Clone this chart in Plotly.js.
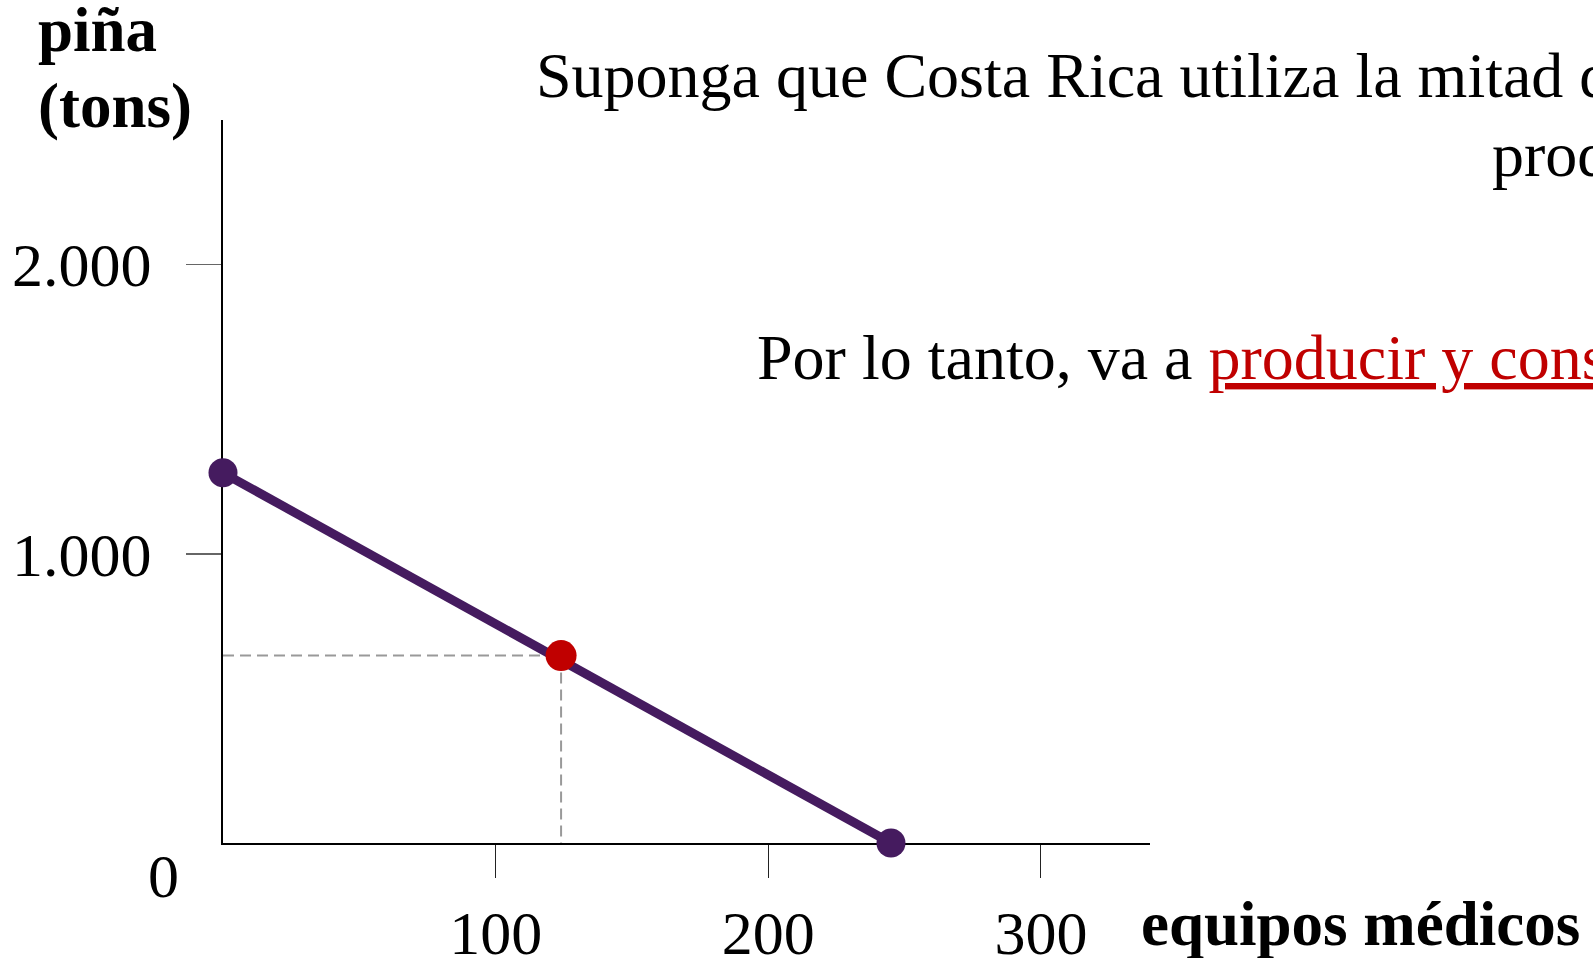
<!DOCTYPE html>
<html><head><meta charset="utf-8">
<script src="https://cdn.plot.ly/plotly-3.0.1.min.js"></script>
<style>html,body{margin:0;padding:0;background:#fff;overflow:hidden}</style>
</head><body><div id="chart" style="width:1593px;height:958px"></div>
<script>
// ---- data ----
const ppfX = [0, 245];
const ppfY = [1280, 0];
const pointX = [124];
const pointY = [648];
const xTickVals = [100, 200, 300];
const xTickText = ['100', '200', '300'];
const yTickVals = [1000, 2000];
const yTickText = ['1.000', '2.000'];
const originLabel = '0';
const xLabel = 'equipos médicos';
const yLabelLines = ['piña', '(tons)'];
const textLine1 = 'Suponga que Costa Rica utiliza la mitad de sus recursos para';
const textLine2 = 'producir cada bien.';
const textLine3a = 'Por lo tanto, va a ';
const textLine3b = 'producir y consumir';

// ---- layout helpers ----
const W = 1593, H = 958;
const M = {l: 223, r: 443, t: 120, b: 115};
const PW = W - M.l - M.r, PH = H - M.t - M.b;
const px = x => (x - M.l) / PW;
const py = y => (H - M.b - y) / PH;
const FONT = 'Liberation Serif, Times New Roman, serif';
const purple = '#451B5F';
const red = '#C00000';

const traces = [
  {x: [0, pointX[0]], y: [pointY[0], pointY[0]], mode: 'lines',
   line: {color: '#999999', width: 2, dash: '11px,6px'}, hoverinfo: 'skip'},
  {x: [pointX[0], pointX[0]], y: [pointY[0], 0], mode: 'lines',
   line: {color: '#999999', width: 2, dash: '11px,6px'}, hoverinfo: 'skip'},
  {x: ppfX, y: ppfY, mode: 'lines+markers', cliponaxis: false,
   line: {color: purple, width: 9},
   marker: {color: purple, size: 29}},
  {x: pointX, y: pointY, mode: 'markers', cliponaxis: false,
   marker: {color: red, size: 31}}
];

function ann(text, x, y, opts) {
  return Object.assign({text: text, xref: 'paper', yref: 'paper', x: px(x), y: py(y),
    xanchor: 'left', yanchor: 'middle', showarrow: false,
    font: {family: FONT, size: 64, color: '#000'}}, opts || {});
}

const layout = {
  width: W, height: H,
  margin: M,
  paper_bgcolor: '#fff', plot_bgcolor: '#fff',
  showlegend: false,
  font: {family: FONT, color: '#000'},
  xaxis: {
    range: [0, 340], showgrid: false, zeroline: false,
    showline: true, linecolor: '#000', linewidth: 2, layer: 'below traces',
    ticks: 'outside', ticklen: 33, tickwidth: 1, tickcolor: '#222',
    tickvals: xTickVals, ticktext: xTickText, ticklabelstandoff: 2,
    tickfont: {family: FONT, size: 62, color: '#000'}
  },
  yaxis: {
    range: [0, 2500], showgrid: false, zeroline: false,
    showline: true, linecolor: '#000', linewidth: 2, layer: 'below traces',
    ticks: 'outside', ticklen: 35, tickwidth: 1.5, tickcolor: '#666',
    tickvals: yTickVals, ticktext: yTickText, ticklabelstandoff: 22,
    tickfont: {family: FONT, size: 62, color: '#000'}
  },
  annotations: [
    ann(yLabelLines[0], 36, 30, {font: {family: FONT, size: 63, color: '#000'}, text: '<b>' + yLabelLines[0] + '</b>'}),
    ann(yLabelLines[1], 36, 106, {font: {family: FONT, size: 63, color: '#000'}, text: '<b>' + yLabelLines[1] + '</b>'}),
    ann(xLabel, 1139, 924, {font: {family: FONT, size: 63, color: '#000'}, text: '<b>' + xLabel + '</b>'}),
    ann(originLabel, 163.5, 876, {xanchor: 'center', font: {family: FONT, size: 62, color: '#000'}}),
    ann(textLine1, 534, 75),
    ann(textLine2, 1490, 154),
    ann(textLine3a + '<span style="color:' + red + '"><u>' + textLine3b + '</u></span>', 755, 357)
  ]
};

Plotly.newPlot('chart', traces, layout, {displayModeBar: false, staticPlot: true});
</script></body></html>
